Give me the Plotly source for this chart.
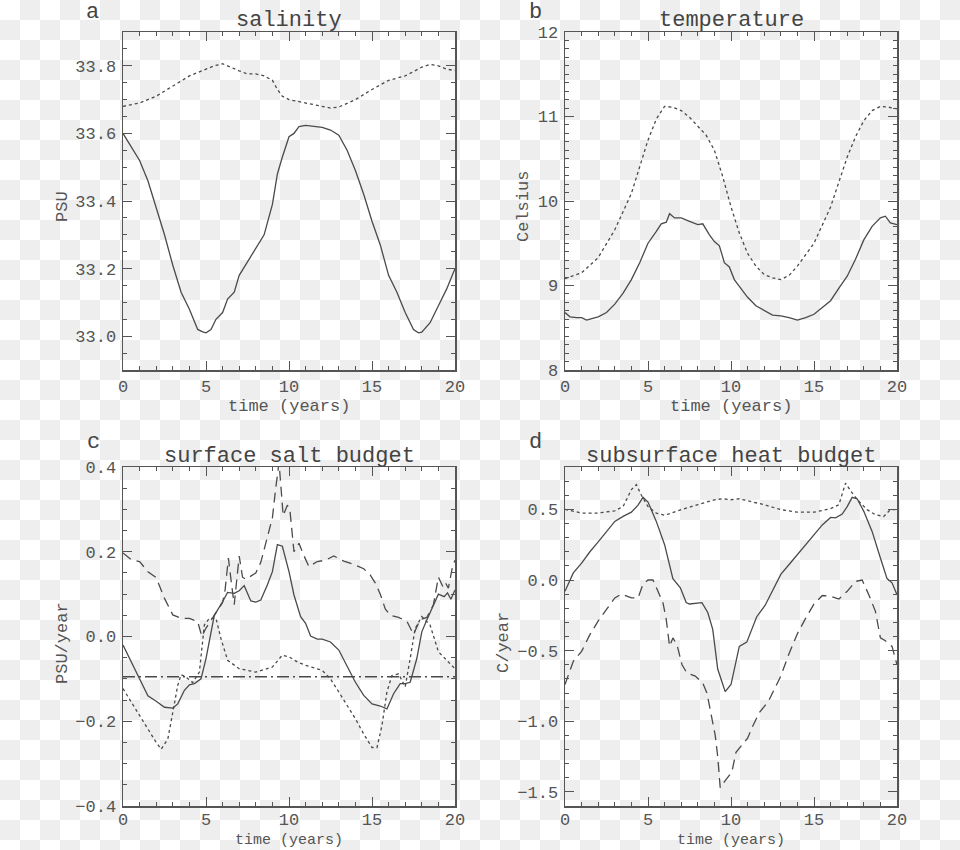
import base64
import plotly.graph_objects as go

# ---------------- data ----------------
# (a) salinity
sal_surf_t = [0, 0.5, 1, 1.5, 2, 2.5, 3, 3.5, 4, 4.5, 4.8, 5, 5.3, 5.6, 6, 6.3, 6.7, 7, 7.5, 8, 8.5, 9, 9.3,
              9.6, 10, 10.3, 10.6, 11, 12, 12.5, 13, 13.5, 14, 14.5, 15, 15.5, 16, 16.5, 17, 17.5, 17.8, 18,
              18.5, 19, 19.5, 20]
sal_surf = [33.60, 33.56, 33.52, 33.46, 33.38, 33.30, 33.21, 33.13, 33.08, 33.02, 33.013, 33.01, 33.02, 33.05,
            33.07, 33.11, 33.13, 33.18, 33.22, 33.26, 33.30, 33.39, 33.48, 33.53, 33.59, 33.60, 33.62, 33.624,
            33.618, 33.61, 33.595, 33.55, 33.49, 33.42, 33.34, 33.27, 33.18, 33.13, 33.07, 33.02, 33.01,
            33.012, 33.04, 33.09, 33.14, 33.20]
sal_deep_t = [0, 1, 2, 3, 4, 5, 5.5, 6, 6.5, 7, 7.5, 8, 8.5, 9, 9.3, 9.6, 10, 11, 12, 12.5, 13, 14, 15, 16,
              17, 18, 18.5, 19, 19.5, 20]
sal_deep = [33.68, 33.69, 33.71, 33.74, 33.77, 33.79, 33.80, 33.806, 33.795, 33.785, 33.776, 33.776, 33.77,
            33.757, 33.73, 33.71, 33.70, 33.69, 33.68, 33.675, 33.678, 33.70, 33.73, 33.757, 33.77, 33.796,
            33.804, 33.80, 33.79, 33.786]

# (b) temperature
tmp_surf_t = [0, 0.3, 0.7, 1, 1.3, 2, 2.5, 3, 3.5, 4, 4.5, 5, 5.5, 5.8, 6.1, 6.3, 6.6, 7, 7.5, 8, 8.3, 8.7,
              9, 9.3, 9.6, 9.9, 10.2, 11, 11.5, 12, 12.5, 13, 13.5, 14, 14.5, 15, 15.5, 16, 16.5, 17, 17.5,
              18, 18.5, 19, 19.3, 19.6, 20]
tmp_surf = [8.68, 8.63, 8.62, 8.62, 8.59, 8.63, 8.68, 8.78, 8.91, 9.07, 9.27, 9.50, 9.64, 9.73, 9.75, 9.85,
            9.80, 9.80, 9.76, 9.72, 9.73, 9.60, 9.52, 9.47, 9.27, 9.22, 9.07, 8.86, 8.76, 8.70, 8.65, 8.64,
            8.62, 8.59, 8.62, 8.66, 8.74, 8.82, 8.97, 9.11, 9.31, 9.54, 9.70, 9.80, 9.82, 9.74, 9.72]
tmp_deep_t = [0, 1, 2, 3, 4, 5, 5.5, 6, 6.5, 7, 7.5, 8, 8.5, 9, 9.5, 10, 10.5, 11, 11.5, 12, 12.5, 13, 13.5,
              14, 15, 16, 17, 17.5, 18, 18.5, 19, 19.5, 20]
tmp_deep = [9.08, 9.15, 9.33, 9.66, 10.09, 10.72, 10.97, 11.12, 11.11, 11.07, 10.99, 10.88, 10.78, 10.60,
            10.29, 9.93, 9.62, 9.38, 9.23, 9.13, 9.09, 9.07, 9.12, 9.23, 9.50, 9.93, 10.52, 10.76, 10.95,
            11.07, 11.12, 11.11, 11.09]

# (c) surface salt budget
sb_tend_t = [0, 0.5, 1, 1.5, 2, 2.5, 3, 3.3, 3.7, 4, 4.3, 4.7, 5, 5.5, 6, 6.3, 6.7, 7, 7.3, 7.7, 8, 8.3, 8.7,
             9, 9.3, 9.6, 10, 10.3, 10.7, 11, 11.3, 11.7, 12, 12.5, 13, 13.5, 14, 14.5, 15, 15.5, 15.9, 16.3,
             16.7, 17, 17.3, 17.7, 18, 18.3, 18.7, 19, 19.35, 19.55, 19.75, 20]
sb_tend = [-0.02, -0.06, -0.10, -0.14, -0.153, -0.167, -0.169, -0.159, -0.127, -0.114, -0.111, -0.10,
           -0.052, 0.05, 0.082, 0.104, 0.102, 0.108, 0.12, 0.084, 0.081, 0.086, 0.122, 0.153, 0.217, 0.213,
           0.153, 0.098, 0.047, 0.031, 0.001, -0.006, -0.006, -0.013, -0.032, -0.072, -0.108, -0.139,
           -0.159, -0.164, -0.171, -0.135, -0.111, -0.111, -0.108, -0.052, 0.011, 0.039, 0.075, 0.10,
           0.094, 0.103, 0.088, 0.11]
sb_adv_t = [0, 0.5, 1, 1.5, 2, 2.5, 3, 3.5, 4, 4.5, 4.75, 5.0, 5.5, 6.0, 6.15, 6.35, 6.55, 6.7, 7.0, 7.2,
            7.4, 7.7, 8.0, 8.3, 8.65, 9.0, 9.2, 9.4, 9.65, 9.9, 10.05, 10.3, 10.6, 10.85, 11.2, 11.7, 12.2,
            12.7, 13.3, 13.9, 14.5, 14.9, 15.2, 15.5, 15.8, 16.1, 16.6, 17.1, 17.5, 17.9, 18.3, 18.7, 19.0,
            19.3, 19.45, 19.6, 19.85, 20]
sb_adv = [0.197, 0.181, 0.177, 0.153, 0.139, 0.09, 0.051, 0.043, 0.043, 0.035, 0.0, 0.02, 0.05, 0.08, 0.11,
          0.185, 0.12, 0.075, 0.19, 0.14, 0.135, 0.143, 0.15, 0.175, 0.225, 0.28, 0.35, 0.41, 0.285, 0.31,
          0.30, 0.20, 0.22, 0.195, 0.165, 0.177, 0.18, 0.19, 0.178, 0.17, 0.16, 0.145, 0.126, 0.10, 0.065,
          0.05, 0.045, 0.036, 0.005, 0.04, 0.045, 0.075, 0.14, 0.115, 0.125, 0.114, 0.165, 0.18]
sb_mix_t = [0, 0.5, 1, 1.5, 2, 2.3, 2.7, 3, 3.3, 3.5, 3.8, 4.2, 4.6, 4.9, 5.2, 5.6, 5.9, 6.3, 7, 8, 9, 9.6,
            10, 10.5, 11, 12, 12.5, 13, 13.5, 14, 14.5, 15, 15.3, 15.6, 15.9, 16.2, 16.6, 17, 17.3, 17.6, 18,
            18.5, 19, 19.5, 20]
sb_mix = [-0.123, -0.155, -0.187, -0.218, -0.25, -0.266, -0.242, -0.179, -0.115, -0.09, -0.096, -0.109,
          -0.084, 0.027, 0.043, 0.043, -0.005, -0.056, -0.076, -0.084, -0.072, -0.044, -0.048, -0.06, -0.068,
          -0.08, -0.10, -0.131, -0.163, -0.194, -0.23, -0.262, -0.262, -0.21, -0.131, -0.092, -0.088, -0.119,
          -0.052, 0.019, 0.047, 0.027, -0.036, -0.056, -0.076]
sb_flux_t = [0, 20]
sb_flux = [-0.095, -0.095]

# (d) subsurface heat budget
hb_tend_t = [0, 0.5, 1, 1.5, 2, 2.5, 3, 3.5, 4, 4.4, 4.7, 5, 5.5, 6, 6.5, 6.95, 7.3, 7.5, 8.25, 8.6, 8.9, 9.2,
             9.65, 10.0, 10.5, 10.95, 11.55, 12.05, 12.5, 13, 13.5, 14, 14.5, 15, 15.5, 16, 16.3, 16.7, 17,
             17.3, 17.6, 18, 18.5, 19, 19.4, 19.7, 20]
hb_tend = [-0.08, 0.05, 0.12, 0.20, 0.27, 0.34, 0.415, 0.45, 0.48, 0.53, 0.585, 0.552, 0.415, 0.25, 0.01,
           -0.055, -0.16, -0.17, -0.16, -0.23, -0.35, -0.63, -0.79, -0.74, -0.47, -0.44, -0.26, -0.18, -0.08,
           0.04, 0.11, 0.18, 0.25, 0.32, 0.39, 0.443, 0.44, 0.467, 0.52, 0.585, 0.575, 0.486, 0.344, 0.156,
           0.01, -0.02, -0.104]
hb_adv_t = [0, 0.5, 1, 1.5, 2, 2.5, 3, 3.4, 4, 4.4, 4.7, 5.0, 5.3, 5.6, 5.9, 6.1, 6.3, 6.5, 6.75, 7.05, 7.35,
            7.85, 8.3, 8.55, 8.85, 9.05, 9.2, 9.35, 9.65, 10.05, 10.3, 10.5, 11.0, 11.25, 11.7, 12.25, 12.5,
            13, 13.5, 14, 14.5, 15, 15.5, 16, 16.5, 17, 17.5, 17.9, 18.3, 18.7, 19, 19.3, 19.7, 20]
hb_adv = [-0.74, -0.575, -0.505, -0.387, -0.29, -0.21, -0.127, -0.10, -0.127, -0.127, -0.03, 0.0, 0.0, -0.08,
          -0.16, -0.28, -0.47, -0.41, -0.46, -0.60, -0.66, -0.68, -0.73, -0.80, -0.97, -1.10, -1.25, -1.47,
          -1.42, -1.36, -1.22, -1.19, -1.12, -1.05, -0.94, -0.86, -0.80, -0.68, -0.52, -0.38, -0.27, -0.17,
          -0.11, -0.115, -0.135, -0.08, -0.01, 0.0, -0.104, -0.222, -0.41, -0.43, -0.47, -0.60]
hb_mix_t = [0, 1, 2, 3, 3.5, 4, 4.3, 4.6, 5, 5.5, 6, 6.5, 7, 8, 9, 9.5, 10, 10.5, 11, 12, 13, 14, 15, 16, 16.5,
            16.9, 17.3, 17.7, 18.2, 18.7, 19.2, 19.6, 20]
hb_mix = [0.5, 0.474, 0.474, 0.49, 0.52, 0.64, 0.675, 0.60, 0.52, 0.474, 0.458, 0.48, 0.498, 0.533, 0.568,
          0.575, 0.568, 0.575, 0.561, 0.533, 0.498, 0.48, 0.48, 0.505, 0.533, 0.686, 0.616, 0.557, 0.498,
          0.462, 0.45, 0.498, 0.498]

panel_titles = ["salinity", "temperature", "surface salt budget", "subsurface heat budget"]
panel_letters = ["a", "b", "c", "d"]
y_titles = ["PSU", "Celsius", "PSU/year", "C/year"]
x_title = "time (years)"

# ---------------- styling ----------------
FONT = "Liberation Mono"
LINE = "#4a4a4a"
AX = "#555555"
TXT = "#555555"
W, H = 960, 850

fig = go.Figure()


def add(x, y, ax, dash):
    fig.add_trace(go.Scatter(x=x, y=y, mode="lines", xaxis="x" + ax, yaxis="y" + ax,
                             line=dict(color=LINE, width=1.3, dash=dash, shape="linear"),
                             showlegend=False, hoverinfo="skip"))


add(sal_surf_t, sal_surf, "", "solid")
add(sal_deep_t, sal_deep, "", "dot")
add(tmp_surf_t, tmp_surf, "2", "solid")
add(tmp_deep_t, tmp_deep, "2", "dot")
add(sb_tend_t, sb_tend, "3", "solid")
add(sb_adv_t, sb_adv, "3", "10px,6px")
add(sb_mix_t, sb_mix, "3", "dot")
add(sb_flux_t, sb_flux, "3", "12px,4px,2px,4px")
add(hb_tend_t, hb_tend, "4", "solid")
add(hb_adv_t, hb_adv, "4", "10px,6px")
add(hb_mix_t, hb_mix, "4", "dot")

# panel boxes in pixels (left, right, top, bottom)
boxes = [(123, 455, 32, 370), (565, 897, 32, 370), (123, 455, 467, 806), (565, 897, 467, 806)]
yranges = [(32.9, 33.9), (8.0, 12.0), (-0.4, 0.4), (-1.6, 0.8)]
ydt = [0.2, 1, 0.2, 0.5]
yminor = [0.05, 0.1, 0.05, 0.1]
yfmt = [".1f", "d", ".1f", ".1f"]
xstandoff = [0, 0, -3, -3]

tickfont = dict(family=FONT, size=17, color=TXT)
layout = {}
for i, (l, r, t, b) in enumerate(boxes):
    sfx = "" if i == 0 else str(i + 1)
    xd = [l / W, r / W]
    yd = [1 - b / H, 1 - t / H]
    layout["xaxis" + sfx] = dict(
        domain=xd, anchor="y" + sfx, range=[0, 20], tick0=0, dtick=5, ticks="inside", ticklen=9,
        tickcolor=AX, tickwidth=1, showline=True, linecolor=AX, linewidth=1.5, mirror="allticks",
        showgrid=False, zeroline=False, tickfont=tickfont, ticklabelstandoff=xstandoff[i],
        automargin=False,
        minor=dict(ticks="inside", dtick=1, ticklen=4, tickcolor=AX, showgrid=False))
    layout["yaxis" + sfx] = dict(
        domain=yd, anchor="x" + sfx, range=list(yranges[i]), tick0=0, dtick=ydt[i], ticks="inside",
        ticklen=9, tickcolor=AX, tickwidth=1, showline=True, linecolor=AX, linewidth=1.5,
        mirror="allticks", showgrid=False, zeroline=False, tickfont=tickfont, tickformat=yfmt[i],
        ticklabelstandoff=2, automargin=False,
        minor=dict(ticks="inside", dtick=yminor[i], ticklen=4, tickcolor=AX, showgrid=False))

ann = []
title_y = [20, 20, 457, 457]
letter_pos = [(92, 13), (535, 13), (93, 443), (535, 442)]
ytitle_pos = [(62, 207), (523, 207), (62, 643), (503, 643)]
xtitle_y = [407, 407, 840, 840]
xtitle_size = [17, 17, 15, 15]
for i, (l, r, t, b) in enumerate(boxes):
    cx = (l + r) / 2
    ann.append(dict(text=panel_titles[i], x=cx / W, y=1 - title_y[i] / H, xref="paper", yref="paper",
                    showarrow=False, xanchor="center", yanchor="middle",
                    font=dict(family=FONT, size=22, color="#444444")))
    ann.append(dict(text=panel_letters[i], x=letter_pos[i][0] / W, y=1 - letter_pos[i][1] / H,
                    xref="paper", yref="paper", showarrow=False, xanchor="center", yanchor="middle",
                    font=dict(family=FONT, size=22, color="#444444")))
    ann.append(dict(text=y_titles[i], x=ytitle_pos[i][0] / W, y=1 - ytitle_pos[i][1] / H,
                    xref="paper", yref="paper", showarrow=False, xanchor="center", yanchor="middle",
                    textangle=-90, font=dict(family=FONT, size=17, color=TXT)))
    ann.append(dict(text=x_title, x=cx / W, y=1 - xtitle_y[i] / H, xref="paper", yref="paper",
                    showarrow=False, xanchor="center", yanchor="middle",
                    font=dict(family=FONT, size=xtitle_size[i], color=TXT)))

# checkerboard backdrop (transparency pattern seen in the reference)
svg = ("<svg xmlns='http://www.w3.org/2000/svg' width='960' height='850'><defs>"
       "<pattern id='p' width='40' height='40' patternUnits='userSpaceOnUse'>"
       "<rect width='40' height='40' fill='#ffffff'/>"
       "<rect x='20' y='0' width='20' height='20' fill='#eeeeee'/>"
       "<rect x='0' y='20' width='20' height='20' fill='#eeeeee'/></pattern></defs>"
       "<rect width='960' height='850' fill='url(#p)'/></svg>")
src = "data:image/svg+xml;base64," + base64.b64encode(svg.encode()).decode()

fig.update_layout(
    template="none",
    width=W, height=H, margin=dict(l=0, r=0, t=0, b=0, pad=0, autoexpand=False),
    paper_bgcolor="white", plot_bgcolor="rgba(0,0,0,0)",
    annotations=ann,
    images=[dict(source=src, xref="paper", yref="paper", x=0, y=1, sizex=1, sizey=1,
                 xanchor="left", yanchor="top", sizing="stretch", layer="below")],
    **layout)

fig.write_html("out.html", config={"displayModeBar": False, "staticPlot": True},
               post_script="document.body.style.margin='0';document.body.style.overflow='hidden';")
